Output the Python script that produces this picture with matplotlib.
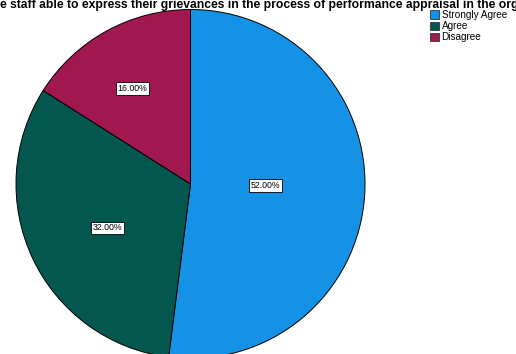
import numpy as np
import matplotlib.pyplot as plt

# Response shares
categories = ['Strongly Agree', 'Agree', 'Disagree']
percents = [52.0, 32.0, 16.0]
colors = ['#1591E6', '#03574F', '#A0184F']
title = ('Are the staff able to express their grievances in the process '
         'of performance appraisal in the organization?')

plt.rcParams['font.family'] = ['Liberation Sans', 'DejaVu Sans']

W, H = 516, 354
fig = plt.figure(figsize=(W / 100, H / 100), dpi=100)

# pie centre at (190.5, 184) px from top-left, radius 174.5 px
cx, cy, r = 190.5, 184, 174.5
ax = fig.add_axes([(cx - r) / W, (H - cy - r) / H, 2 * r / W, 2 * r / H])

wedges, _ = ax.pie(percents, colors=colors, startangle=90, counterclock=False,
                   radius=1, wedgeprops=dict(edgecolor='black', linewidth=0.7))
ax.set_aspect('auto')
ax.set_xlim(-1, 1)
ax.set_ylim(-1, 1)
ax.axis('off')

# label distance from centre for each slice
label_dist = [0.43, 0.54, 0.64]
for w, p, d in zip(wedges, percents, label_dist):
    ang = np.deg2rad((w.theta1 + w.theta2) / 2 + 2.5)
    ax.text(d * np.cos(ang), d * np.sin(ang), f'{p:.2f}%', ha='center', va='center',
            fontsize=6.3,
            bbox=dict(boxstyle='square,pad=0.2', facecolor='white', edgecolor='black', linewidth=0.6))

# title (cut off at both sides like the original)
tfs = 8.7
t = fig.text(0, 1 - 5 / H, title, ha='left', va='center', fontsize=tfs, fontweight='bold')
fig.canvas.draw()
rend = fig.canvas.get_renderer()
tmp = fig.text(0, 0, 'Are th', fontsize=tfs, fontweight='bold')
off = tmp.get_window_extent(rend).width
tmp.remove()
t.set_x(-off / W)

handles = [plt.Rectangle((0, 0), 1, 1, facecolor=c, edgecolor='#333333', linewidth=0.6) for c in colors]
fig.legend(handles, categories, loc='upper left', bbox_to_anchor=(430 / W, 1 - 10 / H),
           frameon=False, fontsize=7.2, handlelength=0.9, handleheight=0.9,
           handletextpad=0.25, labelspacing=0.12, borderpad=0, borderaxespad=0)

fig.savefig('out.png', dpi=100)
